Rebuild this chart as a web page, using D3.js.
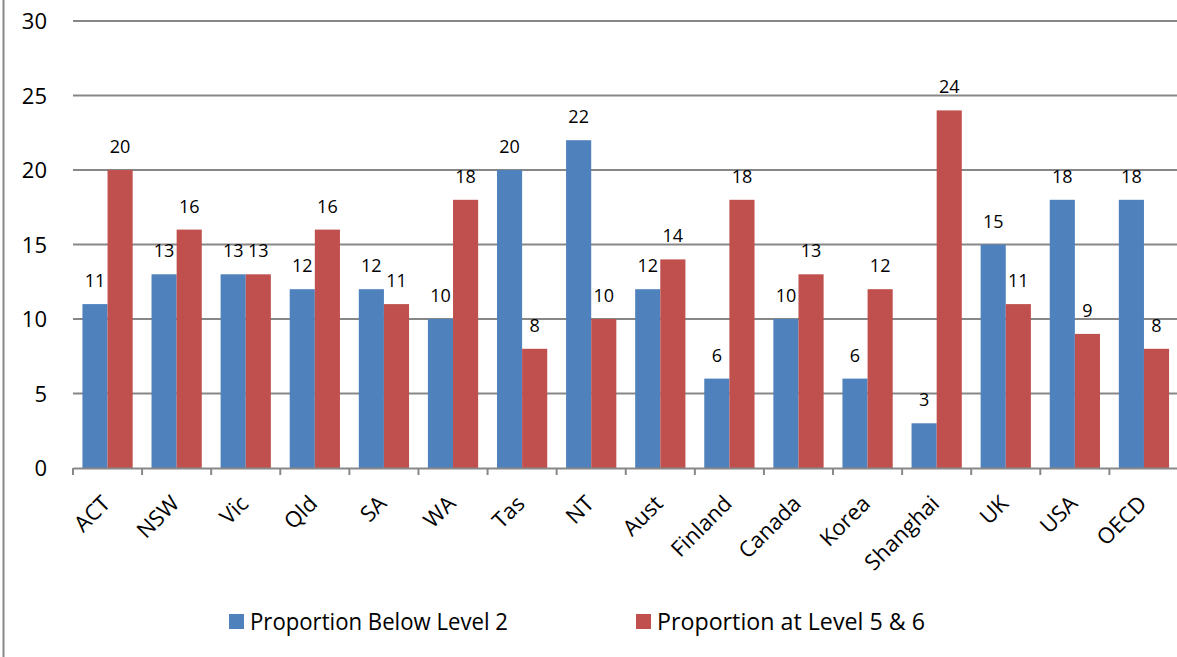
<!DOCTYPE html>
<html>
<head>
<meta charset="utf-8">
<script src="https://cdn.jsdelivr.net/npm/d3@7"></script>
<style>
  html, body { margin: 0; padding: 0; background: #fff; }
  svg { display: block; font-family: "Open Sans", "Noto Sans", sans-serif; }
</style>
</head>
<body>
<svg id="chart" width="1177" height="657"></svg>
<script>
// Regions and comparison systems
const categories = ["ACT", "NSW", "Vic", "Qld", "SA", "WA", "Tas", "NT", "Aust",
  "Finland", "Canada", "Korea", "Shanghai", "UK", "USA", "OECD"];
// Percentage of students below proficiency Level 2
const belowLevel2 = [11, 13, 13, 12, 12, 10, 20, 22, 12, 6, 10, 6, 3, 15, 18, 18];
// Percentage of students at proficiency Levels 5 and 6
const level5and6 = [20, 16, 13, 16, 11, 18, 8, 10, 14, 18, 13, 12, 24, 11, 9, 8];
const seriesNames = ["Proportion Below Level 2", "Proportion at Level 5 & 6"];
const seriesColors = ["#4F81BD", "#C0504D"];
const yTicks = [0, 5, 10, 15, 20, 25, 30];

const svg = d3.select("#chart");
const plotLeft = 73, plotRight = 1178.5, plotTop = 21, plotBottom = 468;

const x = d3.scaleBand().domain(categories).range([plotLeft, plotRight]).paddingInner(0).paddingOuter(0);
const x1 = d3.scaleBand().domain([0, 1]).range([0, x.bandwidth()]).paddingInner(0).paddingOuter(0.375);
const y = d3.scaleLinear().domain([0, 30]).range([plotBottom, plotTop]);

// outer chart border (left edge visible)
svg.append("line").attr("x1", 3.5).attr("x2", 3.5).attr("y1", 0).attr("y2", 657)
  .attr("stroke", "#888").attr("stroke-width", 2);

// horizontal gridlines
svg.append("g").selectAll("line").data(yTicks.filter(d => d > 0)).join("line")
  .attr("x1", plotLeft).attr("x2", plotRight)
  .attr("y1", d => y(d)).attr("y2", d => y(d))
  .attr("stroke", "#878787").attr("stroke-width", 2);

// y-axis labels
const yAxis = d3.axisLeft(y).tickValues(yTicks).tickSize(0).tickPadding(0);
const yg = svg.append("g").attr("transform", `translate(47,0)`).call(yAxis);
yg.select(".domain").remove();
yg.selectAll("text").attr("font-size", 22).attr("fill", "#000")
  .attr("font-family", "'Open Sans', sans-serif").attr("dy", "0.36em");

// bars
const data = categories.map((c, i) => ({ c, vals: [belowLevel2[i], level5and6[i]] }));
const groups = svg.append("g").selectAll("g").data(data).join("g")
  .attr("transform", d => `translate(${x(d.c)},0)`);

groups.selectAll("rect").data(d => d.vals.map((v, k) => ({ v, k }))).join("rect")
  .attr("x", d => x1(d.k))
  .attr("width", x1.bandwidth())
  .attr("y", d => y(d.v))
  .attr("height", d => y(0) - y(d.v))
  .attr("fill", d => seriesColors[d.k]);

// value labels
groups.selectAll("text").data(d => d.vals.map((v, k) => ({ v, k }))).join("text")
  .attr("x", d => x1(d.k) + x1.bandwidth() / 2)
  .attr("y", d => y(d.v) - 17)
  .attr("text-anchor", "middle")
  .attr("font-size", 18)
  .attr("fill", "#000")
  .text(d => d.v);

// x-axis line and ticks at band boundaries
const xAxis = d3.axisBottom(x).tickSize(0).tickFormat("");
const xg = svg.append("g").attr("transform", `translate(0,${plotBottom})`).call(xAxis);
xg.selectAll(".tick").remove();
xg.select(".domain").attr("stroke", "#878787").attr("stroke-width", 2);
const boundaries = categories.map(c => x(c)).concat([plotRight]);
xg.selectAll("line.bt").data(boundaries).join("line").attr("class", "bt")
  .attr("x1", d => d).attr("x2", d => d).attr("y1", 0).attr("y2", 7)
  .attr("stroke", "#878787").attr("stroke-width", 2);

// rotated category labels
svg.append("g").selectAll("text").data(categories).join("text")
  .attr("transform", c => `translate(${x(c) + x.bandwidth() / 2 + 4},${plotBottom + 37}) rotate(-45)`)
  .attr("text-anchor", "end")
  .attr("font-size", 22)
  .attr("fill", "#000")
  .text(c => c);

// legend
const legendItems = [
  { name: seriesNames[0], color: seriesColors[0], sx: 229, tx: 250, len: 258 },
  { name: seriesNames[1], color: seriesColors[1], sx: 636, tx: 657, len: 268 }
];
const lg = svg.append("g").selectAll("g").data(legendItems).join("g");
lg.append("rect").attr("x", d => d.sx).attr("y", 614).attr("width", 15).attr("height", 15)
  .attr("fill", d => d.color);
lg.append("text").attr("x", d => d.tx).attr("y", 630).attr("font-size", 24)
  .attr("textLength", d => d.len).attr("lengthAdjust", "spacingAndGlyphs")
  .attr("fill", "#000").text(d => d.name);
</script>
</body>
</html>
